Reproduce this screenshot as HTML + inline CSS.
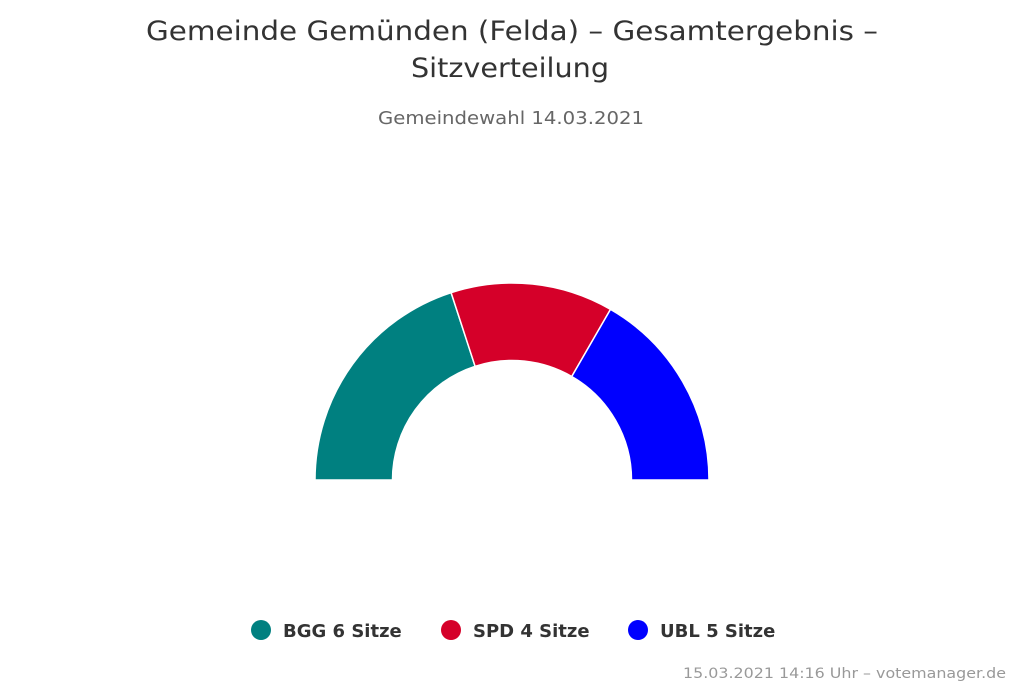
<!DOCTYPE html>
<html><head><meta charset="utf-8"><style>
body{margin:0;background:#fff;}
svg{display:block;font-family:"DejaVu Sans","Liberation Sans",sans-serif;}
</style></head><body>
<svg width="1023" height="682" viewBox="0 0 1023 682">
<text x="146" y="40" font-size="27" fill="#333" textLength="732" lengthAdjust="spacingAndGlyphs">Gemeinde Gemünden (Felda) – Gesamtergebnis –</text>
<text x="411" y="77" font-size="27" fill="#333" textLength="198" lengthAdjust="spacingAndGlyphs">Sitzverteilung</text>
<text x="378" y="124" font-size="18" fill="#666" textLength="266" lengthAdjust="spacingAndGlyphs">Gemeindewahl 14.03.2021</text>
<g stroke="#fff" stroke-width="1.5" stroke-linejoin="round">
<path d="M315,480 A197,197 0 0 1 451.1,292.6 L475.1,366.3 A119.5,119.5 0 0 0 392.5,480 Z" fill="#008080"/>
<path d="M451.1,292.6 A197,197 0 0 1 610.5,309.4 L571.75,376.5 A119.5,119.5 0 0 0 475.1,366.3 Z" fill="#d50029"/>
<path d="M610.5,309.4 A197,197 0 0 1 709,480 L631.5,480 A119.5,119.5 0 0 0 571.75,376.5 Z" fill="#0000ff"/>
</g>
<g font-size="18" font-weight="bold" fill="#333">
<circle cx="261" cy="630" r="10" fill="#008080"/><text x="283" y="637">BGG 6 Sitze</text>
<circle cx="451" cy="630" r="10" fill="#d50029"/><text x="473" y="637">SPD 4 Sitze</text>
<circle cx="638" cy="630" r="10" fill="#0000ff"/><text x="660" y="637">UBL 5 Sitze</text>
</g>
<text x="683" y="678" font-size="14" fill="#999" textLength="323" lengthAdjust="spacingAndGlyphs">15.03.2021 14:16 Uhr – votemanager.de</text>
</svg>
</body></html>
